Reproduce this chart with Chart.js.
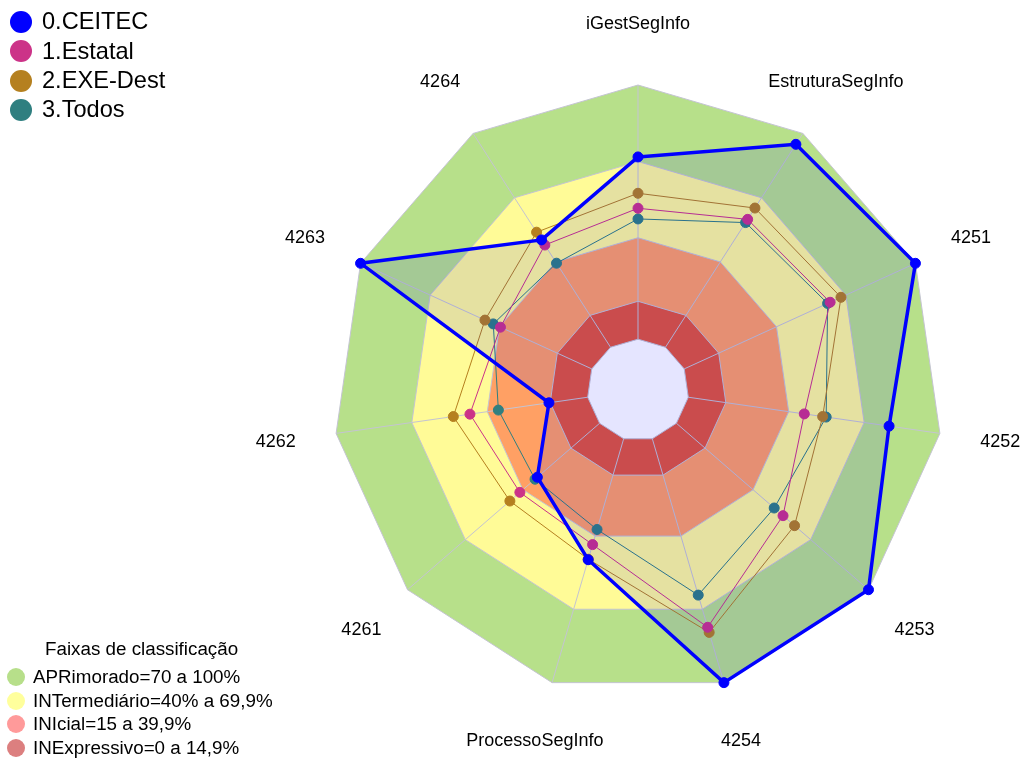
<!DOCTYPE html>
<html>
<head>
<meta charset="utf-8">
<script src="https://cdn.jsdelivr.net/npm/chart.js@4/dist/chart.umd.min.js"></script>
<style>
    body { margin: 0; background: #fff; font-family: "Liberation Sans", Arial, sans-serif; }
    #wrap { position: relative; width: 1021px; height: 758px; overflow: hidden; }
    #chart { position: absolute; left: 0; top: 0; }
    .leg { position: absolute; left: 0; top: 0; color: #000; }
    .item { position: absolute; white-space: nowrap; }
    .dot { position: absolute; border-radius: 50%; }
</style>
</head>
<body>
<div id="wrap">
    <canvas id="chart" width="1021" height="758"></canvas>
    <div class="leg" id="seriesLegend"></div>
    <div class="leg" id="bandLegend"></div>
</div>
<script>
// eixos do radar (sentido horario a partir do topo)
const axisLabels = ['iGestSegInfo', 'EstruturaSegInfo', '4251', '4252', '4253', '4254',
    'ProcessoSegInfo', '4261', '4262', '4263', '4264'];

// valores (%)
const ceitec  = [71.7, 94.9, 100, 79.8, 100, 100, 49.6, 32.4, 15.4, 100, 50.2];
const estatal = [51.5, 59.8, 63.1, 46.1, 55.5, 77.3, 43.4, 41.5, 46.8, 39.5, 47.8];
const exeDest = [57.4, 65.1, 67.8, 53.4, 61.5, 79.4, 49.4, 46.7, 53.4, 46.2, 53.8];
const todos   = [47.3, 58.3, 62.0, 54.8, 50.9, 64.1, 37.2, 33.6, 35.5, 42.6, 39.3];

const seriesNames = ['0.CEITEC', '1.Estatal', '2.EXE-Dest', '3.Todos'];

// faixas de classificacao (limite superior de cada faixa)
const bandLimits = [100, 69.9, 39.9, 14.9];
const bandNames = ['APRimorado=70 a 100%', 'INTermediário=40% a 69,9%', 'INIcial=15 a 39,9%', 'INExpressivo=0 a 14,9%'];
const bandTitle = 'Faixas de classificação';

// cores
const seriesColors = ['#0000ff', '#cc3388', '#b5801f', '#2f7f80'];
const bandFill = ['#b7e08a', '#fffb97', '#ffa064', '#e15539'];
const bandLegendColors = ['#b7df8a', '#ffff9c', '#ff9a9a', '#dc7f7f'];
const gridColor = '#c4c4d2';
const FONT = '"Liberation Sans", Arial, sans-serif';

const series = [ceitec, estatal, exeDest, todos];

const datasets = [];

series.forEach((values, i) => {
    const isMain = i === 0;
    datasets.push({
        label: seriesNames[i],
        data: values,
        order: i + 1,
        fill: isMain ? 'start' : false,
        backgroundColor: isMain ? 'rgba(0, 0, 255, 0.1)' : 'transparent',
        borderColor: seriesColors[i],
        borderWidth: isMain ? 3.5 : 1,
        pointRadius: 5,
        pointBorderWidth: 1,
        pointBackgroundColor: seriesColors[i],
        pointBorderColor: seriesColors[i]
    });
});

bandLimits.forEach((lim, i) => {
    datasets.push({
        label: bandNames[i],
        data: axisLabels.map(() => lim),
        order: 10 - i,
        fill: 'start',
        backgroundColor: bandFill[i],
        borderColor: gridColor,
        borderWidth: 1,
        pointRadius: 0
    });
});

// miolo (centro vazio)
const HOLE_INDEX = datasets.length;
datasets.push({
    label: 'centro',
    data: axisLabels.map(() => 0),
    order: 5,
    fill: 'start',
    backgroundColor: '#ffffff',
    borderColor: gridColor,
    borderWidth: 1,
    pointRadius: 0
});

// raios desenhados logo depois do miolo, por cima das faixas
const spokesPlugin = {
    id: 'spokes',
    afterDatasetDraw(chart, args) {
        if (args.index !== HOLE_INDEX) return;
        const scale = chart.scales.r;
        const ctx = chart.ctx;
        ctx.save();
        ctx.strokeStyle = gridColor;
        ctx.lineWidth = 1;
        axisLabels.forEach((_, i) => {
            const a = scale.getPointPositionForValue(i, 0);
            const b = scale.getPointPositionForValue(i, 100);
            ctx.beginPath();
            ctx.moveTo(a.x, a.y);
            ctx.lineTo(b.x, b.y);
            ctx.stroke();
        });
        ctx.restore();
    }
};

// rotulos dos eixos centrados a 1.2 x raio
const labelsPlugin = {
    id: 'axisText',
    afterDraw(chart) {
        const scale = chart.scales.r;
        const ctx = chart.ctx;
        ctx.save();
        ctx.fillStyle = '#000';
        ctx.font = '18px ' + FONT;
        ctx.textAlign = 'center';
        ctx.textBaseline = 'middle';
        axisLabels.forEach((txt, i) => {
            const p = scale.getPointPosition(i, scale.drawingArea * 1.2);
            ctx.fillText(txt, p.x, p.y);
        });
        ctx.restore();
    }
};

new Chart(document.getElementById('chart').getContext('2d'), {
    type: 'radar',
    data: { labels: axisLabels, datasets: datasets },
    options: {
        responsive: false,
        animation: false,
        layout: { padding: { left: 333, top: 85, right: 78, bottom: 63 } },
        elements: { line: { tension: 0 } },
        plugins: {
            legend: { display: false },
            tooltip: { enabled: false }
        },
        scales: {
            r: {
                min: -20,
                max: 100,
                ticks: { display: false },
                grid: { display: false },
                angleLines: { display: false },
                pointLabels: { display: false }
            }
        }
    },
    plugins: [spokesPlugin, labelsPlugin]
});

// legendas em HTML
function addItem(parent, text, color, cx, cy, r, tx, fontSize) {
    const dot = document.createElement('div');
    dot.className = 'dot';
    dot.style.left = (cx - r) + 'px';
    dot.style.top = (cy - r) + 'px';
    dot.style.width = (2 * r) + 'px';
    dot.style.height = (2 * r) + 'px';
    dot.style.background = color;
    parent.appendChild(dot);
    const lab = document.createElement('div');
    lab.className = 'item';
    lab.textContent = text;
    lab.style.left = tx + 'px';
    lab.style.top = (cy - fontSize * 0.58) + 'px';
    lab.style.fontSize = fontSize + 'px';
    lab.style.lineHeight = '1.15';
    parent.appendChild(lab);
}

const seriesLegend = document.getElementById('seriesLegend');
seriesNames.forEach((name, i) => {
    addItem(seriesLegend, name, seriesColors[i], 21, 22 + i * 29.3, 11, 42, 23.6);
});

const bandLegend = document.getElementById('bandLegend');
const title = document.createElement('div');
title.className = 'item';
title.textContent = bandTitle;
title.style.fontSize = '18.8px';
title.style.left = '45px';
title.style.top = '638px';
bandLegend.appendChild(title);
bandNames.forEach((name, i) => {
    addItem(bandLegend, name, bandLegendColors[i], 16, 677 + i * 23.7, 9, 33, 18.8);
});
</script>
</body>
</html>
